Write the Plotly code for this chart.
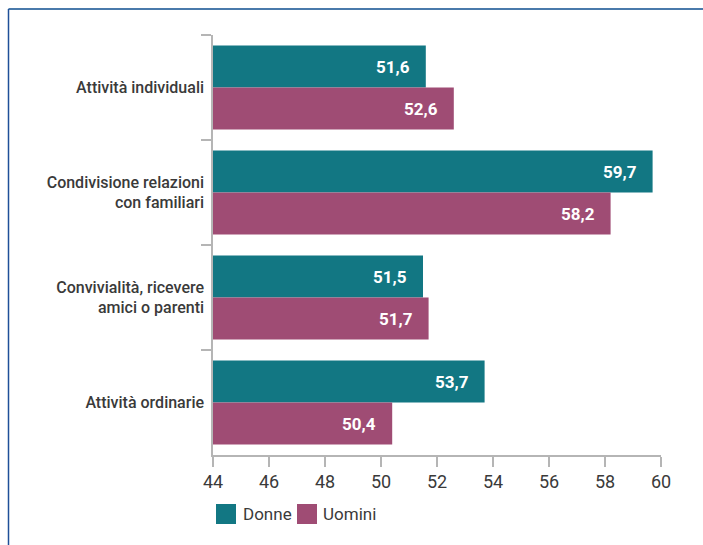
import plotly.graph_objects as go

# Survey data: average scores by activity type and gender
categories = [
    "Attività individuali",
    "Condivisione relazioni<br>con familiari",
    "Convivialità, ricevere<br>amici o parenti",
    "Attività ordinarie",
]
donne = [51.6, 59.7, 51.5, 53.7]
uomini = [52.6, 58.2, 51.7, 50.4]
series_names = ["Donne", "Uomini"]
x_ticks = [44, 46, 48, 50, 52, 54, 56, 58, 60]

TEAL = "#127783"
PLUM = "#9f4c74"
TEXT = "#3a3a3a"
AXIS = "#b5b5b5"
FONT = "Roboto, sans-serif"

W, H = 703, 545
L, R, T, B = 213, 42, 35, 90
plot_w = W - L - R
plot_h = H - T - B


def px_to_paper(px, py):
    return (px - L) / plot_w, (H - B - py) / plot_h


def fmt(v):
    return f"{v:.1f}".replace(".", ",")


fig = go.Figure()

# With the reversed category axis the first trace sits on top of each group
fig.add_trace(go.Bar(
    y=categories, x=donne, base=0, orientation="h", name=series_names[0],
    marker=dict(color=TEAL, line=dict(width=0)), showlegend=False,
))
fig.add_trace(go.Bar(
    y=categories, x=uomini, base=0, orientation="h", name=series_names[1],
    marker=dict(color=PLUM, line=dict(width=0)), showlegend=False,
))

# Value labels inside the bar ends
bar_offset = plot_h / len(categories) * 0.8 / 4
annotations = []
for cat, vd, vu in zip(categories, donne, uomini):
    for v, shift in ((vd, bar_offset), (vu, -bar_offset)):
        annotations.append(dict(
            x=v, y=cat, xref="x", yref="y", text=f"<b>{fmt(v)}</b>",
            showarrow=False, xanchor="right", yanchor="middle",
            xshift=-14, yshift=shift,
            font=dict(family=FONT, size=17, color="white"),
        ))

# Legend drawn as swatches plus labels below the axis
legend_items = [(series_names[0], TEAL, 216, 241), (series_names[1], PLUM, 297, 321)]
shapes = []
for name, color, sx, tx in legend_items:
    x0, y0 = px_to_paper(sx, 504)
    x1, y1 = px_to_paper(sx + 20, 524)
    shapes.append(dict(type="rect", xref="paper", yref="paper",
                       x0=x0, x1=x1, y0=y1, y1=y0,
                       fillcolor=color, line=dict(width=0)))
    ax, ay = px_to_paper(tx, 514)
    annotations.append(dict(
        x=ax, y=ay, xref="paper", yref="paper", text=name, showarrow=False,
        xanchor="left", yanchor="middle",
        font=dict(family=FONT, size=17, color=TEXT),
    ))

# Outer frame: top and left rules
fx0, fy0 = px_to_paper(8.5, 9)
fx1, fy1 = px_to_paper(W + 5, H + 5)
shapes.append(dict(type="line", xref="paper", yref="paper",
                   x0=fx0, x1=fx1, y0=fy0, y1=fy0,
                   line=dict(color="#4a7aab", width=2)))
shapes.append(dict(type="line", xref="paper", yref="paper",
                   x0=fx0, x1=fx0, y0=fy0, y1=fy1,
                   line=dict(color="#1f4f98", width=1.5)))

fig.update_layout(
    width=W, height=H,
    margin=dict(l=L, r=R, t=T, b=B),
    paper_bgcolor="white", plot_bgcolor="white",
    barmode="group", bargap=0.2, bargroupgap=0,
    font=dict(family=FONT, color=TEXT),
    showlegend=False,
    annotations=annotations,
    shapes=shapes,
)
fig.update_xaxes(
    range=[44, 60], tickvals=x_ticks, ticktext=[str(t) for t in x_ticks],
    showgrid=False, zeroline=False,
    showline=True, linecolor=AXIS, linewidth=1.5,
    ticks="outside", ticklen=10, tickcolor=AXIS, tickwidth=1.5,
    tickfont=dict(family=FONT, size=18, color=TEXT),
)
fig.update_yaxes(
    autorange="reversed", categoryorder="array", categoryarray=categories,
    showgrid=False, zeroline=False,
    showline=True, linecolor=AXIS, linewidth=1.5,
    ticks="outside", tickson="boundaries", ticklen=10, tickcolor=AXIS, tickwidth=1.5,
    ticklabelstandoff=4,
    tickfont=dict(family=FONT, size=16, color=TEXT, weight=500),
)

fig.write_html("out.html")
